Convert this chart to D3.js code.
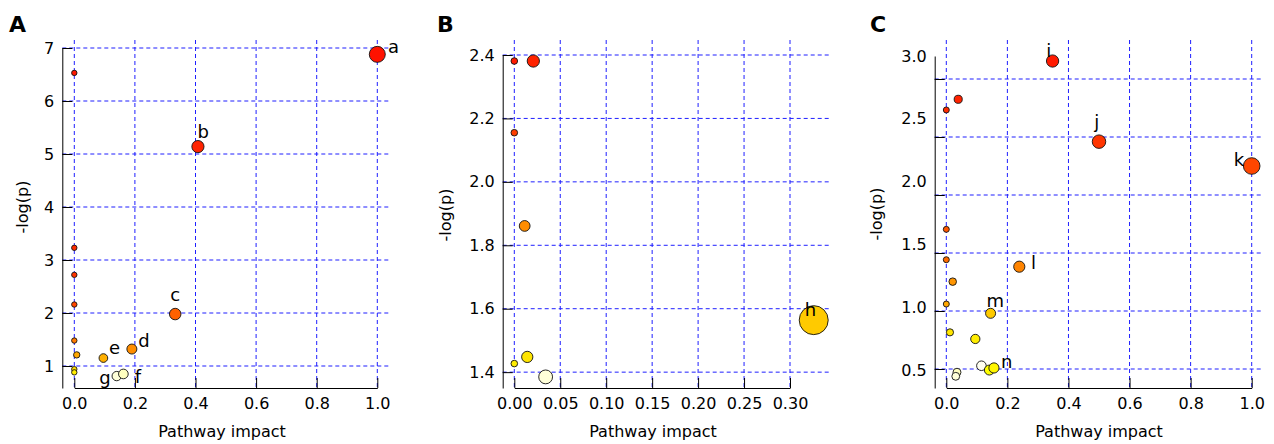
<!DOCTYPE html>
<html>
<head>
<meta charset="utf-8">
<title>Pathway impact plots</title>
<script src="https://d3js.org/d3.v7.min.js"></script>
<style>
    body { margin: 0; background: #fff; }
    svg { font-family: "DejaVu Sans", Verdana, sans-serif; }
    .grid line { stroke: #1f1fff; stroke-width: 1; stroke-dasharray: 4,3; }
    .axis path, .axis line { stroke: #000; stroke-width: 1; }
    .axis text { font-size: 16px; fill: #000; font-family: "DejaVu Sans", Verdana, sans-serif; }
    .dot { stroke: #111; stroke-width: 0.9; }
    .lbl { font-size: 18px; fill: #000; }
    .title { font-size: 16px; fill: #000; }
    .panel { font-size: 22px; font-weight: bold; fill: #000; }
</style>
</head>
<body>
<svg id="chart" width="1274" height="444"></svg>
<script>
    // ---- data (drawing order) ----
    // panel A
    var impactA = [0, 0, 0, 0, 0, 0.008, 0, 0, 0.096, 0.19, 0.333, 0.408, 1.0, 0.14, 0.162];
    var logpA   = [6.53, 3.23, 2.72, 2.16, 1.48, 1.21, 0.94, 0.88, 1.15, 1.32, 1.98, 5.14, 6.88, 0.81, 0.85];
    var rankA   = [4, 6, 7, 9, 15, 20, 26, 28, 21, 17, 12, 5, 3, 39, 38];
    var namesA  = ["", "", "", "", "", "", "", "", "e", "d", "c", "b", "a", "g", "f"];

    // panel B
    var impactB = [0, 0.0207, 0, 0.0113, 0.0141, 0, 0.0341, 0.3258];
    var logpB   = [2.381, 2.381, 2.155, 1.861, 1.448, 1.427, 1.385, 1.564];
    var rankB   = [4, 5, 8, 17, 27, 28, 39, 24];
    var namesB  = ["", "", "", "", "", "", "", "h"];

    // panel C
    var impactC = [0, 0.039, 0, 0, 0.021, 0, 0.012, 0.095, 0.035, 0.031, 0.115, 0.141, 0.156, 0.145, 0.239, 0.348, 0.5, 1.0];
    var logpC   = [2.733, 2.825, 1.704, 1.442, 1.253, 1.06, 0.816, 0.759, 0.472, 0.437, 0.528, 0.491, 0.509, 0.98, 1.382, 3.155, 2.46, 2.25];
    var rankC   = [6, 5, 11, 13, 18, 20, 27, 28, 38, 39, 40, 30, 29, 24, 16, 4, 7, 9];
    var namesC  = ["", "", "", "", "", "", "", "", "", "", "", "", "n", "m", "l", "i", "j", "k"];

    var nPathways = 40;

    var xTicksA = [0, 0.2, 0.4, 0.6, 0.8, 1.0];
    var yTicksA = [1, 2, 3, 4, 5, 6, 7];
    var xTicksB = [0, 0.05, 0.10, 0.15, 0.20, 0.25, 0.30];
    var yTicksB = [1.4, 1.6, 1.8, 2.0, 2.2, 2.4];
    var xTicksC = [0, 0.2, 0.4, 0.6, 0.8, 1.0];
    var yTicksC = [0.5, 1.0, 1.5, 2.0, 2.5, 3.0];

    // label offsets from the circle centre: [dx, dy, anchor]
    var labelPos = {
        a: [10.7, -1.6, "start"], b: [-0.3, -9, "start"], c: [0, -13, "middle"],
        d: [6.3, -1.6, "start"], e: [5.7, -4, "start"], f: [11.3, 9.3, "start"], g: [-6, 8, "end"],
        h: [-8.9, -4, "start"],
        i: [-3.8, -3.7, "middle"], j: [-2.2, -14, "middle"], k: [-17.9, 0, "start"],
        l: [11.7, 2.6, "start"], m: [-4, -6.6, "start"], n: [7.1, 0.3, "start"]
    };

    // R's heat.colors(n)
    function heatColors(n) {
        var j = Math.floor(n / 4), i = n - j, out = [];
        for (var k = 0; k < i; k++) {
            out.push(d3.hsl(60 * k / (i - 1), 1, 0.5).formatHex());
        }
        var s0 = 1 - 1 / (2 * j), s1 = 1 / (2 * j);
        for (var k = 0; k < j; k++) {
            var s = j > 1 ? s0 + k * (s1 - s0) / (j - 1) : s0;
            out.push(d3.hsl(60, 1, 1 - s / 2).formatHex());
        }
        return out;
    }
    var heat = heatColors(nPathways);

    var svg = d3.select("#chart");

    var panels = [
        {
            letter: "A", letterX: 9, impact: impactA, logp: logpA, rank: rankA, names: namesA,
            xTicks: xTicksA, yTicks: yTicksA, xFmt: ".1f", yFmt: "d",
            xDomain: [0, 1], xRange: [74.3, 377.3], yAxisX: 62.3,
            yDomain: [0.585, 7], yRange: [388, 48], gridRight: 390,
            rRange: [2.7, 8], ytX: 27.6, ytY: 207, xtX: 222
        },
        {
            letter: "B", letterX: 437, impact: impactB, logp: logpB, rank: rankB, names: namesB,
            xTicks: xTicksB, yTicks: yTicksB, xFmt: ".2f", yFmt: ".1f",
            xDomain: [0, 0.30], xRange: [514.3, 790], yAxisX: 502.7,
            yDomain: [1.35, 2.4], yRange: [388, 55], gridRight: 830,
            rRange: [3.3, 14.5], ytX: 450.8, ytY: 215, xtX: 653
        },
        {
            letter: "C", letterX: 870, impact: impactC, logp: logpC, rank: rankC, names: namesC,
            xTicks: xTicksC, yTicks: yTicksC, xFmt: ".1f", yFmt: ".1f",
            xDomain: [0, 1], xRange: [946.3, 1251.7], yAxisX: 934.7,
            yDomain: [0.357, 3.0], yRange: [388, 56], gridRight: 1263,
            // gridlines and tick marks of this panel sit on their own spacing
            gridDomain: [0.5, 3.0], gridRange: [369, 79],
            rRange: [3, 8.3], ytX: 882.4, ytY: 214, xtX: 1099
        }
    ];

    var xAxisY = 388, gridTop = 40;

    panels.forEach(function (p) {
        var g = svg.append("g");
        var x = d3.scaleLinear().domain(p.xDomain).range(p.xRange);
        var yLab = d3.scaleLinear().domain(p.yDomain).range(p.yRange);
        var y = p.gridDomain ? d3.scaleLinear().domain(p.gridDomain).range(p.gridRange) : yLab;
        var r = d3.scaleSqrt().domain([0, d3.max(p.impact)]).range(p.rRange);

        // grid
        var grid = g.append("g").attr("class", "grid");
        grid.selectAll("line.v").data(p.xTicks).join("line")
            .attr("class", "v")
            .attr("x1", function (d) { return x(d); })
            .attr("x2", function (d) { return x(d); })
            .attr("y1", gridTop).attr("y2", xAxisY);
        grid.selectAll("line.h").data(p.yTicks).join("line")
            .attr("class", "h")
            .attr("x1", p.yAxisX).attr("x2", p.gridRight)
            .attr("y1", function (d) { return y(d); })
            .attr("y2", function (d) { return y(d); });

        // axes
        g.append("g").attr("class", "axis")
            .attr("transform", "translate(0," + xAxisY + ")")
            .call(d3.axisBottom(x).tickValues(p.xTicks).tickFormat(d3.format(p.xFmt))
                .tickSizeInner(-10).tickSizeOuter(0).tickPadding(10));

        if (p.gridDomain) {
            g.append("g").attr("class", "axis")
                .attr("transform", "translate(" + p.yAxisX + ",0)")
                .call(d3.axisLeft(yLab).tickValues(p.yTicks).tickFormat(d3.format(p.yFmt))
                    .tickSize(0).tickPadding(8));
            var ga = g.append("g").attr("class", "axis")
                .attr("transform", "translate(" + p.yAxisX + ",0)")
                .call(d3.axisLeft(y).tickValues(p.yTicks).tickFormat("")
                    .tickSizeInner(-10).tickSizeOuter(0));
            ga.select(".domain").remove();
        } else {
            g.append("g").attr("class", "axis")
                .attr("transform", "translate(" + p.yAxisX + ",0)")
                .call(d3.axisLeft(y).tickValues(p.yTicks).tickFormat(d3.format(p.yFmt))
                    .tickSizeInner(-10).tickSizeOuter(0).tickPadding(8));
        }

        // points
        var idx = d3.range(p.impact.length);
        g.append("g").selectAll("circle").data(idx).join("circle")
            .attr("class", "dot")
            .attr("cx", function (i) { return x(p.impact[i]); })
            .attr("cy", function (i) { return y(p.logp[i]); })
            .attr("r", function (i) { return r(p.impact[i]); })
            .style("fill", function (i) { return heat[p.rank[i] - 1]; });

        // point labels
        g.append("g").selectAll("text").data(idx.filter(function (i) { return p.names[i]; })).join("text")
            .attr("class", "lbl")
            .attr("x", function (i) { return x(p.impact[i]) + labelPos[p.names[i]][0]; })
            .attr("y", function (i) { return y(p.logp[i]) + labelPos[p.names[i]][1]; })
            .attr("text-anchor", function (i) { return labelPos[p.names[i]][2]; })
            .text(function (i) { return p.names[i]; });

        // titles
        g.append("text").attr("class", "title")
            .attr("x", p.xtX).attr("y", 437)
            .attr("text-anchor", "middle")
            .text("Pathway impact");
        g.append("text").attr("class", "title")
            .attr("transform", "translate(" + p.ytX + "," + p.ytY + ") rotate(-90)")
            .attr("text-anchor", "middle")
            .text("-log(p)");
        g.append("text").attr("class", "panel")
            .attr("x", p.letterX).attr("y", 32)
            .text(p.letter);
    });
</script>
</body>
</html>
